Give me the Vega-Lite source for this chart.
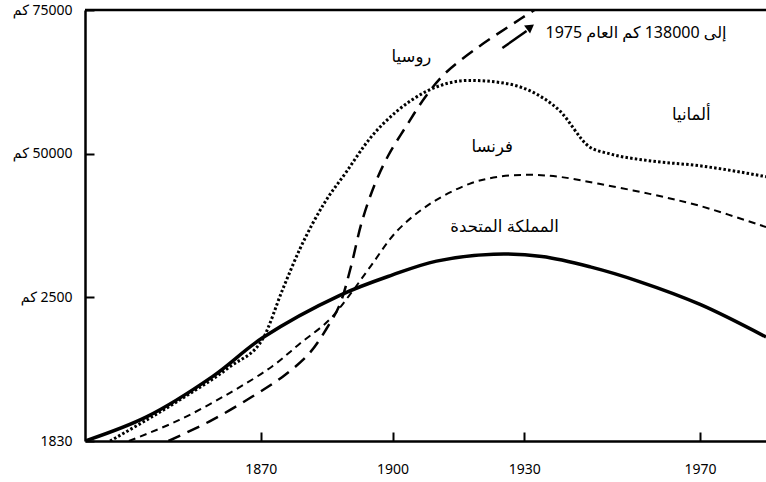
{
  "$schema": "https://vega.github.io/schema/vega-lite/v6.json",
  "width": 681,
  "height": 431,
  "autosize": {"type": "none"},
  "padding": {"left": 85, "top": 10, "right": 0, "bottom": 41},
  "background": "white",
  "config": {
    "view": {"stroke": null},
    "font": "Noto Sans, DejaVu Sans",
    "axis": {
      "grid": false,
      "domainColor": "black",
      "domainWidth": 2.5,
      "tickColor": "black",
      "tickWidth": 2,
      "labelColor": "black",
      "labelFontSize": 14,
      "labelFont": "Noto Sans, DejaVu Sans"
    }
  },
  "datasets": {
    "lines": [
      {"series": "UK", "year": 1830, "km": 0},
      {"series": "UK", "year": 1844, "km": 4200},
      {"series": "UK", "year": 1859, "km": 11200},
      {"series": "UK", "year": 1870.5, "km": 18000},
      {"series": "UK", "year": 1888, "km": 25350},
      {"series": "UK", "year": 1900, "km": 28900},
      {"series": "UK", "year": 1910, "km": 31300},
      {"series": "UK", "year": 1923, "km": 32500},
      {"series": "UK", "year": 1934, "km": 32100},
      {"series": "UK", "year": 1945, "km": 30300},
      {"series": "UK", "year": 1956, "km": 27790},
      {"series": "UK", "year": 1970, "km": 23770},
      {"series": "UK", "year": 1985, "km": 18100},
      {"series": "Germany", "year": 1835.7, "km": 0},
      {"series": "Germany", "year": 1851.6, "km": 7170},
      {"series": "Germany", "year": 1863, "km": 12935},
      {"series": "Germany", "year": 1870.5, "km": 17830},
      {"series": "Germany", "year": 1875, "km": 26400},
      {"series": "Germany", "year": 1878.9, "km": 33390},
      {"series": "Germany", "year": 1884.5, "km": 41430},
      {"series": "Germany", "year": 1889.5, "km": 46850},
      {"series": "Germany", "year": 1894.8, "km": 52600},
      {"series": "Germany", "year": 1900.9, "km": 57330},
      {"series": "Germany", "year": 1907.7, "km": 60830},
      {"series": "Germany", "year": 1917.5, "km": 62750},
      {"series": "Germany", "year": 1924.3, "km": 62400},
      {"series": "Germany", "year": 1931.1, "km": 61000},
      {"series": "Germany", "year": 1938, "km": 57500},
      {"series": "Germany", "year": 1944.8, "km": 51200},
      {"series": "Germany", "year": 1949.3, "km": 50000},
      {"series": "Germany", "year": 1958.4, "km": 48770},
      {"series": "Germany", "year": 1969.8, "km": 47900},
      {"series": "Germany", "year": 1985, "km": 46000},
      {"series": "France", "year": 1840, "km": 0},
      {"series": "France", "year": 1851.5, "km": 3670},
      {"series": "France", "year": 1863, "km": 8390},
      {"series": "France", "year": 1872.5, "km": 12930},
      {"series": "France", "year": 1879, "km": 17000},
      {"series": "France", "year": 1885.5, "km": 21000},
      {"series": "France", "year": 1890, "km": 25170},
      {"series": "France", "year": 1895, "km": 30400},
      {"series": "France", "year": 1901, "km": 36530},
      {"series": "France", "year": 1908.5, "km": 41250},
      {"series": "France", "year": 1917.5, "km": 44750},
      {"series": "France", "year": 1924, "km": 45970},
      {"series": "France", "year": 1931, "km": 46320},
      {"series": "France", "year": 1938, "km": 45970},
      {"series": "France", "year": 1947, "km": 44750},
      {"series": "France", "year": 1958.5, "km": 43000},
      {"series": "France", "year": 1970, "km": 40900},
      {"series": "France", "year": 1985, "km": 37230},
      {"series": "Russia", "year": 1849, "km": 0},
      {"series": "Russia", "year": 1859, "km": 3670},
      {"series": "Russia", "year": 1868, "km": 7690},
      {"series": "Russia", "year": 1875, "km": 11200},
      {"series": "Russia", "year": 1881, "km": 15200},
      {"series": "Russia", "year": 1885, "km": 19580},
      {"series": "Russia", "year": 1888, "km": 23770},
      {"series": "Russia", "year": 1890.5, "km": 30240},
      {"series": "Russia", "year": 1893, "km": 38100},
      {"series": "Russia", "year": 1896, "km": 44750},
      {"series": "Russia", "year": 1899, "km": 49640},
      {"series": "Russia", "year": 1903.2, "km": 54890},
      {"series": "Russia", "year": 1907.7, "km": 60130},
      {"series": "Russia", "year": 1912, "km": 64000},
      {"series": "Russia", "year": 1919.8, "km": 68700},
      {"series": "Russia", "year": 1926.6, "km": 72190},
      {"series": "Russia", "year": 1932.3, "km": 75000},
      {"series": "Russia", "year": 1940, "km": 78500}
    ],
    "labels": [
      {"text": "روسيا", "year": 1904.3, "km": 66800},
      {"text": "ألمانيا", "year": 1968, "km": 56700},
      {"text": "فرنسا", "year": 1922.7, "km": 51100},
      {"text": "المملكة المتحدة", "year": 1925.5, "km": 37200}
    ],
    "note": [
      {"text": "إلى 138000 كم العام 1975", "year": 1976, "km": 71000}
    ],
    "arrow": [
      {"year": 1925, "km": 68380},
      {"year": 1930.5, "km": 71340}
    ],
    "arrowhead": [
      {"year": 1931.4, "km": 72040}
    ]
  },
  "layer": [
    {
      "data": {"name": "lines"},
      "transform": [{"filter": "datum.series === 'UK'"}],
      "mark": {"type": "line", "color": "black", "strokeWidth": 3.5, "interpolate": "catmull-rom", "clip": true},
      "encoding": {
        "x": {
          "field": "year", "type": "quantitative", "title": null,
          "scale": {"domain": [1830, 1985], "nice": false, "zero": false},
          "axis": {"values": [1870, 1900, 1930, 1970], "format": "d", "tickSize": -9, "labelPadding": 30, "title": null}
        },
        "y": {
          "field": "km", "type": "quantitative", "title": null,
          "scale": {"domain": [0, 75000], "nice": false},
          "axis": {
            "values": [0, 25000, 50000, 75000],
            "tickSize": -9,
            "labelPadding": 22,
            "title": null,
            "labelExpr": "datum.value == 0 ? '1830' : datum.value == 25000 ? '\u200F2500 كم' : datum.value == 50000 ? '\u200F50000 كم' : '\u200F75000 كم'"
          }
        }
      }
    },
    {
      "data": {"name": "lines"},
      "transform": [{"filter": "datum.series === 'Germany'"}],
      "mark": {"type": "line", "color": "black", "strokeWidth": 3, "strokeDash": [2.5, 2.2], "interpolate": "monotone", "clip": true},
      "encoding": {
        "x": {"field": "year", "type": "quantitative", "title": null},
        "y": {"field": "km", "type": "quantitative", "title": null}
      }
    },
    {
      "data": {"name": "lines"},
      "transform": [{"filter": "datum.series === 'France'"}],
      "mark": {"type": "line", "color": "black", "strokeWidth": 2, "strokeDash": [7, 5], "interpolate": "catmull-rom", "clip": true},
      "encoding": {
        "x": {"field": "year", "type": "quantitative", "title": null},
        "y": {"field": "km", "type": "quantitative", "title": null}
      }
    },
    {
      "data": {"name": "lines"},
      "transform": [{"filter": "datum.series === 'Russia'"}],
      "mark": {"type": "line", "color": "black", "strokeWidth": 2.5, "strokeDash": [13, 8], "interpolate": "catmull-rom", "clip": true},
      "encoding": {
        "x": {"field": "year", "type": "quantitative", "title": null},
        "y": {"field": "km", "type": "quantitative", "title": null}
      }
    },
    {
      "data": {"values": [{}]},
      "mark": {"type": "rule", "color": "black", "strokeWidth": 2.5},
      "encoding": {"y": {"datum": 75000, "type": "quantitative", "title": null}}
    },
    {
      "data": {"name": "labels"},
      "mark": {"type": "text", "color": "black", "fontSize": 16.5, "align": "center", "baseline": "middle", "font": "Noto Sans, DejaVu Sans"},
      "encoding": {
        "x": {"field": "year", "type": "quantitative", "title": null},
        "y": {"field": "km", "type": "quantitative", "title": null},
        "text": {"field": "text"}
      }
    },
    {
      "data": {"name": "note"},
      "mark": {"type": "text", "color": "black", "fontSize": 16, "align": "right", "baseline": "middle", "font": "Noto Sans, DejaVu Sans"},
      "encoding": {
        "x": {"field": "year", "type": "quantitative", "title": null},
        "y": {"field": "km", "type": "quantitative", "title": null},
        "text": {"field": "text"}
      }
    },
    {
      "data": {"name": "arrow"},
      "mark": {"type": "line", "color": "black", "strokeWidth": 2.5},
      "encoding": {
        "x": {"field": "year", "type": "quantitative", "title": null},
        "y": {"field": "km", "type": "quantitative", "title": null}
      }
    },
    {
      "data": {"name": "arrowhead"},
      "mark": {"type": "point", "shape": "triangle-up", "filled": true, "color": "black", "opacity": 1, "size": 100, "angle": 53},
      "encoding": {
        "x": {"field": "year", "type": "quantitative", "title": null},
        "y": {"field": "km", "type": "quantitative", "title": null}
      }
    }
  ]
}
